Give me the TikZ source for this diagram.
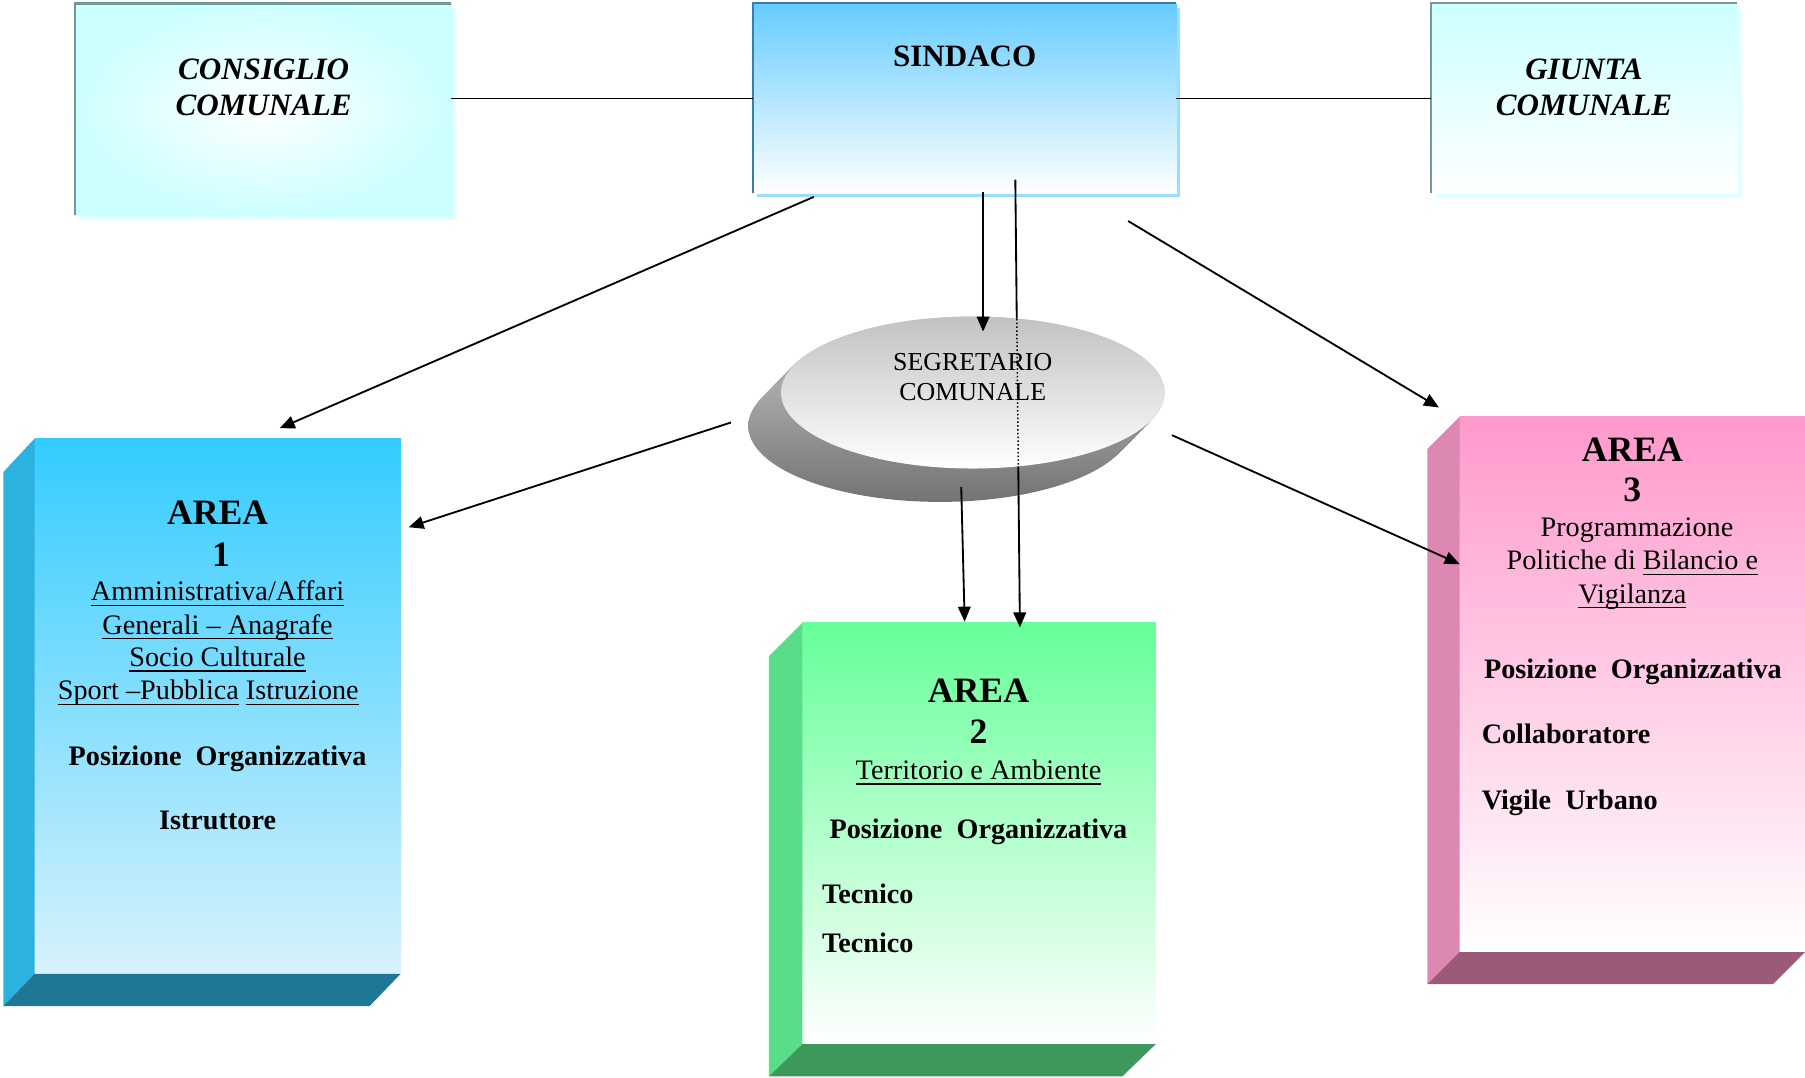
\documentclass[tikz,border=0pt]{standalone}
\usepackage{fontspec}
\setmainfont{Liberation Serif}
\usetikzlibrary{shapes.geometric,arrows.meta,calc}
\definecolor{conscyan}{HTML}{CCFFFF}
\definecolor{consline}{HTML}{6F9898}
\definecolor{sindtop}{HTML}{66CCFF}
\definecolor{sindline}{HTML}{3B7FA0}
\definecolor{sindshadow}{HTML}{9BDDFF}
\definecolor{giuline}{HTML}{7A9898}
\definecolor{giushadow}{HTML}{DDFFFF}
\definecolor{aonetop}{HTML}{33CCFF}
\definecolor{aonemid}{HTML}{95DEF9}
\definecolor{aonebot}{HTML}{D8F2FC}
\definecolor{aoneside}{HTML}{2DB1DF}
\definecolor{aonebase}{HTML}{1F7796}
\definecolor{atwotop}{HTML}{66FF99}
\definecolor{atwomid}{HTML}{C2FCD6}
\definecolor{atwoside}{HTML}{59DD88}
\definecolor{atwobase}{HTML}{3D985C}
\definecolor{athreetop}{HTML}{FF99CC}
\definecolor{athreemid}{HTML}{FFD3EA}
\definecolor{athreeside}{HTML}{DD88B2}
\definecolor{athreebase}{HTML}{9A5B78}
\newcommand{\ulx}[1]{\setbox0\hbox{#1}\rlap{\rule[-4.5pt]{\wd0}{1.3pt}}\box0\relax}
\begin{document}
\begin{tikzpicture}[x=1pt,y=-1pt,
  box/.style={inner sep=0, outer sep=0, anchor=north west, draw=none},
  conn/.style={line width=1.6pt, black},
  arr/.style={conn, -{Triangle[length=13pt,width=11pt]}},
  txt/.style={inner sep=0, anchor=base, font=\fontsize{24.5}{29}\selectfont},
  btxt/.style={inner sep=0, anchor=base, font=\fontsize{24.5}{29}\selectfont\bfseries},
  lbtxt/.style={inner sep=0, anchor=base west, font=\fontsize{24.5}{29}\selectfont\bfseries},
  big/.style={inner sep=0, anchor=base, font=\fontsize{31}{36}\selectfont\bfseries},
  head/.style={inner sep=0, anchor=base, font=\fontsize{27}{31}\selectfont\bfseries\itshape},
  sectxt/.style={inner sep=0, anchor=base, font=\fontsize{22.5}{26}\selectfont},
  disc/.style={ellipse, inner sep=0, outer sep=0, minimum width=333pt, minimum height=132pt, draw=none}
]
\useasboundingbox (0,0) rectangle (1568,936);

% ---------- top boxes ----------
\node[box, minimum width=327pt, minimum height=184pt, shading=radial, inner color=white, outer color=conscyan] (cons) at (65,3) {};
\draw[line width=2.5pt, conscyan!70] ($(cons.north east)+(2,4)$) -- ($(cons.south east)+(2,2)$) -- ($(cons.south west)+(4,2)$);
\draw[line width=2pt, consline] (cons.south west) -- (cons.north west) -- (cons.north east);

\node[box, minimum width=368pt, minimum height=165pt, top color=sindtop, bottom color=white] (sind) at (654,3) {};
\draw[line width=2.5pt, sindshadow] ($(sind.north east)+(2,4)$) -- ($(sind.south east)+(2,2)$) -- ($(sind.south west)+(4,2)$);
\draw[line width=1.8pt, sindline] (sind.south west) -- (sind.north west) -- (sind.north east);

\node[box, minimum width=266pt, minimum height=165pt, top color=conscyan, bottom color=white] (giu) at (1243,3) {};
\draw[line width=2.5pt, giushadow] ($(giu.north east)+(2,4)$) -- ($(giu.south east)+(2,2)$) -- ($(giu.south west)+(4,2)$);
\draw[line width=1.8pt, giuline] (giu.south west) -- (giu.north west) -- (giu.north east);

\node[head] (consa) at (229,69) {CONSIGLIO};
\node[head] (consb) at (229,100) {COMUNALE};
\node[inner sep=0, anchor=base, font=\fontsize{27}{31}\selectfont\bfseries] (sindt) at (838,58) {SINDACO};
\node[head] (giua) at (1376,69) {GIUNTA};
\node[head] (giub) at (1376,100) {COMUNALE};

\draw[conn] (cons.east |- sind.west) -- (sind.west);
\draw[conn] (sind.east) -- (giu.west |- sind.east);

% ---------- area boxes ----------
% Area 1
\node[box, minimum width=318pt, minimum height=465pt, top color=aonetop, middle color=aonemid, bottom color=aonebot] (a1) at (30,381) {};
\fill[aoneside] (a1.north west) -- ++(-27,29) -- ($(a1.south west)+(-27,28)$) -- (a1.south west) -- cycle;
\fill[aonebase] (a1.south west) -- (a1.south east) -- ++(-27,28) -- ($(a1.south west)+(-27,28)$) -- cycle;
% Area 2
\node[box, minimum width=307pt, minimum height=366pt, top color=atwotop, middle color=atwomid, bottom color=white] (a2) at (697,541) {};
\fill[atwoside] (a2.north west) -- ++(-29,29) -- ($(a2.south west)+(-29,28)$) -- (a2.south west) -- cycle;
\fill[atwobase] (a2.south west) -- (a2.south east) -- ++(-29,28) -- ($(a2.south west)+(-29,28)$) -- cycle;
% Area 3
\node[box, minimum width=300pt, minimum height=465pt, top color=athreetop, middle color=athreemid, bottom color=white] (a3) at (1268,362) {};
\fill[athreeside] (a3.north west) -- ++(-28,28) -- ($(a3.south west)+(-28,28)$) -- (a3.south west) -- cycle;
\fill[athreebase] (a3.south west) -- (a3.south east) -- ++(-28,28) -- ($(a3.south west)+(-28,28)$) -- cycle;

% ---------- segretario disc ----------
\foreach \i in {0,...,24}
  \node[disc, top color=black!27, bottom color=black!55] at ({845-28.5*\i/24},{341+29*\i/24}) {};

\coordinate (ls) at (882,156);
\coordinate (lt) at (886,545);
\draw[arr] (ls) -- (lt);

\node[disc, top color=black!24, bottom color=white] (seg) at (845,341) {};
\draw[line width=1.3pt, dotted] (883.25,277) -- (884.6,404);

\node[sectxt] (sega) at (845,322) {SEGRETARIO};
\node[sectxt] (segb) at (845,348) {COMUNALE};

% ---------- area texts ----------
\node[big] (a1t1) at (189,456) {AREA};
\node[big] (a1t2) at (192,492) {1};
\node[txt] (a1t3) at (189,522) {\ulx{Amministrativa/Affari}};
\node[txt] (a1t4) at (189,551) {\ulx{Generali -- Anagrafe}};
\node[txt] (a1t5) at (189,579) {\ulx{Socio Culturale}};
\node[txt] (a1t6) at (181,608) {\ulx{Sport --Pubblica} \ulx{Istruzione}};
\node[btxt] (a1t7) at (189,665) {Posizione\ \ Organizzativa};
\node[btxt] (a1t8) at (189,721) {Istruttore};

\node[big] (a2t1) at (850,610) {AREA};
\node[big] (a2t2) at (850,646) {2};
\node[txt] (a2t3) at (850,677) {\ulx{Territorio e Ambiente}};
\node[btxt] (a2t4) at (850,728) {Posizione\ \ Organizzativa};
\node[lbtxt] (a2t5) at (714,785) {Tecnico};
\node[lbtxt] (a2t6) at (714,827) {Tecnico};

\node[big] (a3t1) at (1418,401) {AREA};
\node[big] (a3t2) at (1418,436) {3};
\node[txt] (a3t3) at (1422,466) {Programmazione};
\node[txt] (a3t4) at (1418,495) {Politiche di \ulx{Bilancio e}};
\node[txt] (a3t5) at (1418,524) {\ulx{Vigilanza}};
\node[lbtxt] (a3t6) at (1289,589) {Posizione\ \ Organizzativa};
\node[lbtxt] (a3t7) at (1287,646) {Collaboratore};
\node[lbtxt] (a3t8) at (1287,703) {Vigile\ \ Urbano};

% ---------- arrows ----------
\coordinate (s1) at (707,171);  \coordinate (t1) at (243,372);
\coordinate (s2) at (980,192);  \coordinate (t2) at (1250,354);
\coordinate (s3) at (854,167);  \coordinate (t3) at (854,288);
\coordinate (e1) at (635,367);  \coordinate (u1) at (355,458);
\coordinate (e2) at (1018,378); \coordinate (u2) at (1268,490);
\coordinate (e3) at (835,423);  \coordinate (u3) at (838,540);
\draw[arr] (s1) -- (t1);
\draw[arr] (s2) -- (t2);
\draw[arr] (s3) -- (t3);
\draw[arr] (e1) -- (u1);
\draw[arr] (e2) -- (u2);
\draw[arr] (e3) -- (u3);
\end{tikzpicture}
\end{document}
